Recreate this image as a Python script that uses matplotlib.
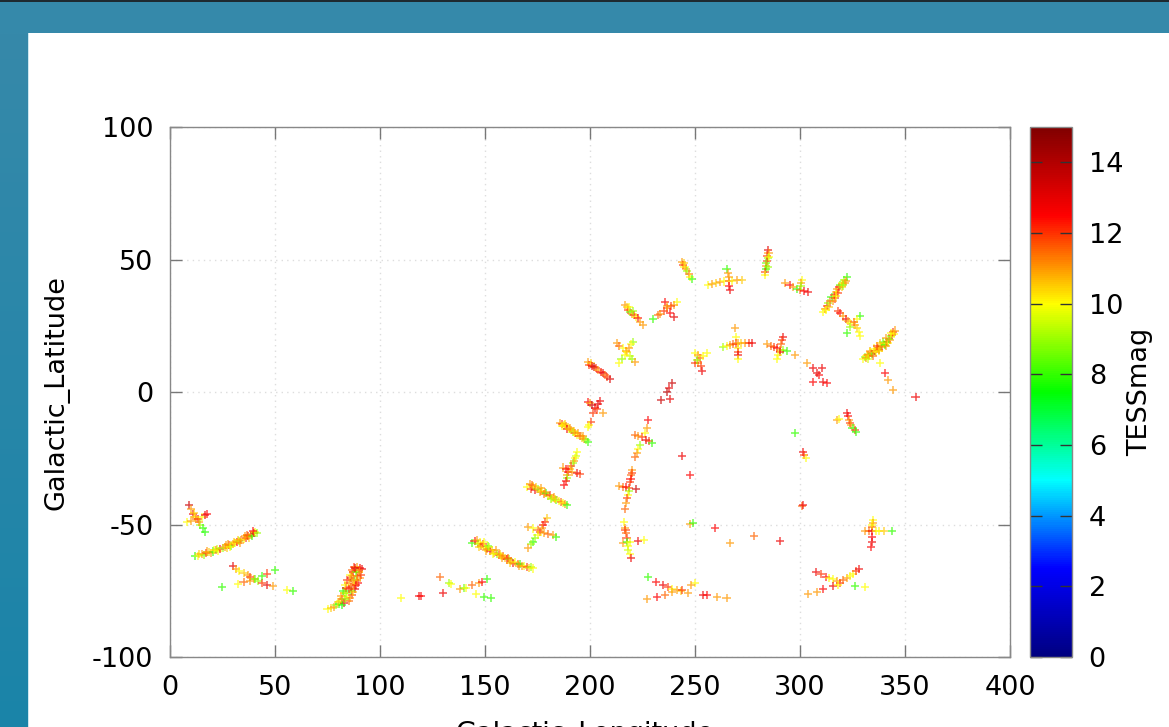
import numpy as np
import matplotlib
matplotlib.use("Agg")
import matplotlib.pyplot as plt
from matplotlib.colors import LinearSegmentedColormap, Normalize
from matplotlib.patches import Rectangle
import matplotlib.cm as cm

# ---------------- data: (Galactic longitude, Galactic latitude, TESSmag) ----------------
south_west = [
    (9, -42.6, 13.5), (10, -44, 11), (11, -46, 12.8), (12, -47, 10), (13.5, -48, 12.5), (14.5, -50, 9),
    (15.5, -51.5, 8), (16.5, -53, 7.8), (8, -49, 10), (10, -48.5, 11), (12.5, -47.8, 11.5), (15, -47, 10),
    (16.5, -46.3, 13), (17.5, -46, 12.5), (11.5, -45.5, 10.5), (14, -49, 11),
    (12, -62, 7.8), (13.5, -61.8, 10), (15, -61.3, 11), (16, -61.6, 9), (17, -60.8, 12), (18.5, -60.5, 10.5),
    (19.5, -60.9, 11), (20.5, -60.2, 8), (22, -59.6, 11.5), (23, -59.9, 10), (24, -59.1, 12.5), (25, -58.8, 9),
    (26, -58.5, 11), (27, -58.9, 10.5), (28, -57.8, 12), (29, -58.1, 8.5), (30, -57.3, 11), (31, -57, 10),
    (32, -56.5, 12.5), (33, -56.2, 9), (34, -55.8, 11.5), (35, -55.3, 10), (36, -55, 12), (37, -54.4, 13),
    (37.5, -54.9, 10.5), (38.5, -53.8, 11), (39, -54.3, 8), (40, -53.2, 12.8), (40.5, -52.8, 10), (41.5, -53.3, 9),
    (35.5, -54.5, 11), (30.5, -56.6, 10.5), (26.5, -57.8, 11), (21, -59.5, 10), (14, -61, 10.5), (17.5, -60.2, 11),
    (22.5, -59.2, 9.5), (27.5, -57.5, 11), (32.5, -55.8, 10.5), (36.5, -54, 11.5), (39.5, -52.6, 12.5),
    (33.5, -56.8, 11), (28.5, -58.6, 10),
    (30, -65.7, 13), (31.5, -66.8, 11), (33, -67.5, 10), (35, -68.3, 10.5), (37, -69.2, 11), (38, -69.8, 12),
    (40, -70.5, 11), (42, -71.3, 9), (44, -72, 12), (46, -72.8, 13), (49, -73.2, 11),
    (24.6, -73.6, 8), (32.5, -72.4, 10), (35, -71.6, 11.5), (38, -71.3, 11), (40.5, -70.5, 8.5), (43.7, -69.5, 8),
    (46, -68.5, 12), (50, -67, 8), (55.6, -74.7, 10), (58.5, -75, 8),
    (75, -82, 10), (76.5, -81.5, 10.5), (78, -81, 11), (79, -80.5, 9), (80.5, -80, 8), (81, -79, 10), (82, -78, 12),
    (81.5, -77, 11), (83, -76, 10.5), (82.5, -75, 8), (84, -74, 12.5), (83.5, -73, 10), (85, -72, 11), (84.5, -71, 12),
    (86, -70, 13), (85.5, -69, 10), (87, -68, 12.5), (86.5, -67, 11.5), (87.5, -66.2, 12), (89, -66, 11),
    (90.5, -66.3, 12.5), (91.5, -66.8, 13), (90, -68, 10), (89, -69.5, 12), (90.5, -70, 11), (88, -71, 9),
    (89.5, -72, 12.5), (87.5, -73, 10), (88, -74.5, 13), (86, -75, 8), (86.5, -76.5, 12), (84.5, -77.5, 10),
    (85, -79, 11.5), (83, -79.5, 12.8), (82, -80.5, 7.8), (87, -71.5, 11), (88.5, -68, 8.5), (84, -76, 9),
    (86, -73.5, 12), (90, -67, 11.5), (91, -69, 12), (89, -70.8, 11), (88.5, -73, 12.5), (87, -75.5, 10.5),
    (85.5, -77.8, 11), (83.5, -78.2, 9), (80, -79.2, 10.5), (88, -66.5, 13), (86.5, -69.3, 11), (85, -74.5, 12),
    (110, -77.7, 10), (118.5, -77, 12.8), (119.5, -77, 12.5), (130, -76, 12.8),
]

south_mid = [
    (128.6, -69.7, 11.5), (133, -72, 9), (134, -72.5, 10), (138, -74.5, 11), (140, -73.8, 8.5), (141, -74, 10),
    (143.6, -72.8, 11.5), (147, -72, 11), (148.6, -71.6, 12.5), (151, -70.6, 8), (145.7, -76.2, 10),
    (149.5, -77.3, 8), (153, -77.8, 8),
    (143.7, -57, 8), (145, -56.3, 12.5), (146, -55.8, 11), (146.5, -57.5, 9), (147.5, -56.8, 10), (148, -58, 11.5),
    (149, -57.2, 12), (150, -58.7, 10), (151, -59.3, 11), (151.5, -58.2, 8.5), (152.5, -60, 12.8),
    (153.5, -59.5, 10.5), (154.5, -60.8, 11), (155.5, -61.2, 9), (156.5, -61.5, 12), (157.5, -62, 10),
    (158.5, -61.8, 11.5), (159.5, -62.6, 10.5), (160.5, -63.2, 12.5), (161.5, -63, 9), (162.5, -63.8, 11),
    (163.5, -64.4, 12.8), (164.5, -64.2, 10), (165.5, -65, 11.5), (166.5, -64.8, 8), (167.5, -65.5, 11),
    (168.5, -65.7, 10), (170, -66, 12), (171, -66.4, 10.5), (172, -66.2, 9), (173, -66.6, 10), (149.5, -56.5, 10),
    (155, -59.8, 11), (147, -58.6, 10.5), (150.5, -59.8, 11), (154, -61.3, 10), (158, -62.8, 11), (162, -64.5, 10.5),
    (166, -65.6, 11), (152, -58.5, 9.5), (157, -61.2, 10.5), (161, -62.6, 11.5),
    (170.5, -50.8, 11), (173, -51.5, 10), (175, -52, 11.5), (176, -52.7, 12), (178, -53.3, 11), (180, -53.5, 11.5),
    (182.4, -54, 11), (184, -54.8, 8), (179.5, -47.6, 10.5), (178.5, -49, 12), (177.6, -50.2, 12.5), (177, -51.5, 11),
    (175, -54, 10), (174, -55, 9), (173, -56.5, 8), (172, -57.5, 9), (170.5, -58.8, 11),
    (170, -35.8, 10), (171.4, -34.7, 11), (172, -36.5, 12), (173, -35.5, 10.5), (174, -37, 12.8), (175, -36.5, 9),
    (176, -37.8, 11), (177, -37.3, 10), (178, -38.5, 11.5), (179, -38, 8), (180, -39.3, 10.5), (181, -38.8, 12),
    (182, -40, 10), (183, -39.8, 11), (184, -40.8, 8.5), (185, -41, 10), (186, -41.5, 11.5), (187, -41.8, 10),
    (188, -42.3, 11), (189, -42.6, 8), (176.5, -36.4, 11), (181.5, -40.3, 9), (172.5, -35.2, 11.5),
    (174.5, -36, 10.5), (178.5, -37.6, 11), (183.5, -40.3, 10.5),
    (194, -22.6, 10), (193.5, -24, 9.5), (193, -25, 10), (192.5, -26, 11), (192, -26.9, 9), (191, -28, 12),
    (190.5, -29, 10.5), (189.5, -30, 12.5), (189, -31.5, 11), (189, -32.5, 9), (188.5, -33.5, 12.5),
    (187.6, -35, 12.5), (187, -28.5, 11), (188.5, -29, 12.5), (191.5, -30, 11), (193.6, -30.5, 12.8), (195, -31, 12),
    (185.7, -11.8, 11), (186.5, -12, 12), (187.5, -12.6, 10), (188.5, -13, 11.5), (189, -13.8, 12.8), (190, -14, 10),
    (191, -14.5, 11), (192, -15.2, 9), (193, -15.5, 11.5), (194, -16.2, 10), (195, -16.5, 12), (196, -17.2, 10.5),
    (197, -17.6, 11), (198, -18.2, 9), (199, -18.8, 8), (188, -12.2, 10.5), (194.5, -15.6, 11), (186.8, -13, 10),
    (190.5, -13.6, 11), (192.5, -14.7, 10.5), (196.5, -16.6, 11),
    (199, -3.8, 12.5), (200, -4.3, 11), (201, -5, 13.5), (202.4, -6, 12.8), (203.5, -6.6, 12), (204.8, -3.3, 12.8),
    (203.6, -4.5, 13), (206, -8, 11), (201.5, -8, 12), (200.5, -11.3, 12), (199.5, -12.3, 10), (199, -13.2, 10),
]

north_arc = [
    (199, 11.3, 11), (199.5, 10.3, 12), (200.5, 10.8, 10.5), (201, 9.8, 12.8), (202, 9.4, 13.5), (203, 9, 12),
    (204, 8.2, 11), (205, 7.5, 12.5), (206, 7, 13), (207, 6.3, 11.5), (208, 5.8, 12), (209.5, 4.9, 13.2),
    (212.8, 18.5, 11), (214, 17.5, 11.5), (215.5, 16.5, 10), (217, 15.5, 11), (217.6, 15, 10.5), (219, 13.5, 9.5),
    (220, 12.5, 9), (221.4, 11.3, 11), (220.5, 19, 9), (219.5, 18, 10), (218.5, 16.5, 11), (216.5, 14, 10),
    (215, 12.5, 9), (214, 10.9, 10),
    (216.7, 32.8, 11), (217.5, 32, 10.5), (218, 31, 12), (219, 30.3, 8.5), (220, 29.5, 11), (221, 29, 12),
    (222, 28.2, 10), (222.8, 27.9, 12.5), (224, 26.5, 11), (225.2, 25.3, 11), (218.5, 32, 10), (220.5, 30.5, 9),
    (241.4, 34, 10), (240, 33, 11), (238.5, 32.5, 12), (236.7, 31.7, 11.5), (235, 30.5, 12), (233.5, 29.5, 11),
    (232.4, 29, 11.5), (230, 27.5, 8), (235.7, 34, 12.5), (236.5, 32.5, 11), (238, 30, 12.5), (240, 28.3, 13),
    (243.8, 49, 11), (244.3, 48, 12), (245, 47.2, 10), (245.5, 46.3, 11), (246.2, 45.5, 9), (247, 44.5, 11.5),
    (247.5, 43.5, 10), (248.6, 42.6, 8), (244.8, 48.5, 10.5),
    (256, 40.4, 10), (258, 40.8, 11), (260, 41.2, 10.5), (262, 41.5, 11), (264, 41.7, 10), (266, 41.8, 11.5),
    (267.6, 41.9, 10), (270, 42.1, 11), (272.4, 42.3, 10.5), (265, 46.4, 8), (265.5, 45, 11), (266, 43.5, 11),
    (266.3, 40, 12.5), (266.7, 38.5, 12.8),
    (284.8, 53.6, 13), (285, 52.5, 11), (284.5, 51.5, 12), (284.6, 50.5, 9), (284.2, 49.5, 12), (284, 48.5, 8.5),
    (283.8, 47.5, 11), (283.6, 46.5, 8), (283.4, 45.3, 12), (283.3, 44.2, 10), (285.3, 51, 10), (284.8, 47, 9),
    (292.9, 41.1, 11), (295, 40.5, 12.5), (296.5, 39.7, 11), (298.6, 38.9, 8), (300, 38.4, 11.5), (302, 38, 12.5),
    (303.8, 37.7, 12.8), (301, 42.3, 10), (300.5, 41, 11), (300.3, 40, 9),
    (311, 30.2, 10), (312, 31.3, 11), (313, 32.5, 12), (313.5, 33.7, 9), (314.5, 34.5, 11.5), (315, 35.8, 8),
    (316, 36.5, 12), (317, 37.8, 10.5), (317.5, 38.8, 11), (318.5, 39.5, 12.5), (319, 40.5, 8.5), (320, 41.3, 10),
    (321, 42.3, 9), (322.4, 43.4, 8), (321.5, 41, 11), (316.5, 35.3, 12), (313.8, 32.2, 10.5), (312.5, 30.8, 10),
    (315.5, 34.2, 11), (318, 37.5, 12), (319.8, 39.6, 10.5), (322, 42, 11), (320.5, 40.2, 9), (317.2, 36.4, 10),
    (318.2, 30.4, 12), (319, 29.8, 12.5), (320.5, 28.5, 11), (322, 27.5, 12.8), (322.8, 26.8, 11), (324, 26, 10),
    (326, 25.3, 11), (327, 24, 10.5), (328, 22.5, 10), (328.6, 21.1, 10), (328.6, 28.7, 8), (327, 27.5, 10),
    (325.5, 26.3, 11.5), (324, 24.5, 9), (322.4, 22.3, 8),
    (330, 12.5, 10), (331, 13.2, 9), (331.5, 12.8, 11), (332.5, 14, 12), (333, 13.5, 10.5), (334, 14.8, 11),
    (334.5, 14.3, 8.5), (335.5, 15.6, 12.5), (336, 15, 10), (337, 16.5, 11), (337.5, 16, 12.8), (338.5, 17.3, 9),
    (339, 16.8, 11.5), (340, 18.2, 10), (340.5, 17.8, 8), (341.5, 19, 12), (342, 18.6, 10), (342.5, 20, 8),
    (343, 19.7, 11), (343.5, 21, 9), (344, 21.5, 11.5), (344.3, 22.6, 12), (344.8, 22, 10), (339.5, 18.8, 8.5),
    (336.5, 16.2, 11), (331.8, 14, 10.5), (333.5, 15.3, 11), (335, 16.4, 10), (336.8, 17.4, 12), (338.2, 18.4, 10.5),
    (341, 20.3, 11), (343.2, 22.4, 10), (345, 23.2, 11), (332.2, 12.3, 9.5), (334.8, 13.7, 11.5), (337.8, 15.5, 10),
    (340.8, 17.2, 11),
    (338, 11, 10), (340.5, 7.2, 12.5), (342, 4.5, 11), (344.3, 0.8, 11), (355, -1.9, 12.8),
]

inner_loop = [
    (250, 14.7, 10), (251.5, 13.8, 11), (252.5, 13, 11.5), (254, 13.5, 10), (255.7, 14.7, 10), (251.4, 11, 11),
    (250, 11, 12), (252.8, 10, 12), (253.3, 8, 12.8), (251, 12, 9),
    (269, 24, 11), (269.5, 20.8, 10),
    (263.3, 17, 9), (265, 17.5, 10), (266.5, 17.8, 11), (268, 18, 11.5), (269.5, 18.3, 12), (270.5, 18.5, 11),
    (272, 18.4, 10.5), (274, 18.6, 11), (275.5, 18.6, 12), (277, 18.5, 12.8), (270.5, 16.5, 10), (270.5, 15.2, 12),
    (270.5, 14, 12.8), (270.5, 12.5, 10),
    (284.3, 18.1, 11), (286, 17.5, 11.5), (287.5, 17, 12), (289, 16.6, 12.5), (290.5, 16, 11), (292, 15.7, 9),
    (293.8, 15.5, 8), (292, 20.8, 12.8), (291.5, 19.5, 12), (291, 18, 11.5), (290.5, 15.1, 12.8), (289.5, 13.8, 10),
    (289, 12.5, 10), (297.6, 14, 11),
    (303.3, 11, 11), (306, 9, 12.8), (310.5, 9, 12.8), (309, 6.4, 12.5), (311, 3.8, 12.8), (306, 3.8, 12.5),
    (312.8, 3.4, 12.5), (308, 7, 13),
    (239, 3.4, 13.5), (237.5, 1.5, 13), (236.6, 0, 13.8), (234, -3, 13.5), (238, -2.6, 13),
    (227.6, -10.6, 12.5), (227, -13.6, 11), (226, -15.5, 10), (224.7, -17, 12), (223, -16.5, 11),
    (221.4, -16.2, 11.5), (226.5, -18, 13), (228, -18.5, 12), (229.5, -19.2, 8), (224, -20, 9), (223, -21.5, 10),
    (222.4, -23, 11), (221.4, -24.5, 11.5),
    (243.8, -24.3, 12.8), (247.6, -31.3, 12.5),
    (220, -29.4, 11), (219.8, -30.5, 12), (219.5, -31.5, 11.5), (219.3, -33, 12.5), (219, -34, 12),
    (213.8, -35.5, 11), (215.5, -35.8, 11.5), (217, -36, 12.5), (218.5, -36.3, 12), (222, -36.6, 13.5),
    (218.5, -37.5, 9), (218.3, -38.9, 10), (217.8, -40, 12), (217.2, -42, 11), (216.7, -44, 11.5), (216.2, -49, 10),
    (216.7, -51.3, 11), (216.9, -52, 12), (217.2, -53.2, 11.5), (217.4, -55, 12), (215.7, -57, 11),
    (217.5, -56.5, 8), (219, -56.5, 10), (223, -56.2, 12.8), (225.7, -55.8, 10), (218, -58, 10), (218.3, -59.6, 9.5),
    (219, -61, 10), (219.5, -62.6, 12.8),
    (247.6, -49.8, 11), (249, -49.3, 8), (259.5, -51.3, 12.5), (266.7, -57, 11), (278, -54.3, 11.5),
    (290.5, -56.2, 12.8), (301, -43, 11.5), (301.5, -42.8, 12.8), (297.6, -15.5, 8), (301.4, -22.6, 12.8),
    (302, -23.8, 12), (302.8, -25, 10),
    (322.4, -8, 12.8), (322.8, -9.2, 12.5), (323.2, -10.5, 11), (323.8, -11.7, 12), (324.5, -12.5, 11),
    (325, -13.5, 8), (326, -14.2, 12), (326.7, -15, 8), (317.6, -10.6, 11), (318.5, -10.3, 10),
]

south_east = [
    (227.6, -69.8, 8), (231.4, -71.7, 12.5), (234.8, -72.8, 12.8), (237, -73.6, 12), (239, -74.2, 10),
    (241.4, -74.7, 11), (243.5, -75.2, 10.5), (246.7, -75.8, 11), (250, -72, 10), (248, -73, 11), (227, -78, 11),
    (232, -77.3, 12.5), (235.7, -76.6, 11.5), (239, -75.5, 11), (243.8, -74.7, 12), (253.8, -76.6, 12.8),
    (255.7, -76.6, 12.5), (260.5, -77.3, 11), (265, -77.7, 11),
    (307.6, -68, 12.8), (310, -68.8, 12), (312.4, -69.8, 12.5), (314, -70.2, 10), (315.7, -70.6, 10),
    (317.5, -71.5, 11), (319, -72, 12), (320.5, -71, 11.5), (322.4, -70.2, 11), (324, -69.5, 10), (325.2, -68.7, 10),
    (326.5, -67.5, 12), (328, -66.8, 12.8), (315.7, -73.2, 12.8), (318, -72.8, 10), (326, -73.2, 8),
    (331, -73.6, 10), (303.8, -76.2, 11), (308, -75.5, 11), (311, -74.3, 12.5),
    (334.8, -48.3, 10), (334.8, -49.5, 11), (334.5, -51, 11.5), (331, -52.5, 11), (333, -52.5, 11.5),
    (334.5, -52.5, 12.8), (336, -52.5, 10), (337.6, -52.5, 10), (340, -52.5, 10.5), (343.8, -52.5, 8),
    (334.5, -54.7, 12.5), (334.2, -56.6, 12.8), (333.8, -58.5, 12.5), (334.3, -50, 10),
]

x_ticks = [0, 50, 100, 150, 200, 250, 300, 350, 400]
y_ticks = [-100, -50, 0, 50, 100]
cbar_ticks = [0, 2, 4, 6, 8, 10, 12, 14]

# ---------------- figure ----------------
plt.rcParams["font.family"] = ["DejaVu Sans"]
plt.rcParams["axes.unicode_minus"] = False
W, H, DPI = 1169, 727, 100
FS = 19.5
fig = plt.figure(figsize=(W / DPI, H / DPI), dpi=DPI, facecolor="white")

# page frame (blue bands)
bg = fig.add_axes([0, 0, 1, 1], zorder=-10)
bg.set_xlim(0, W)
bg.set_ylim(H, 0)
bg.axis("off")
grad = np.linspace(0, 1, 256).reshape(-1, 1)
band_cmap = LinearSegmentedColormap.from_list("band", ["#3689aa", "#1a84a8"])
bg.imshow(grad, cmap=band_cmap, extent=[0, 28, H, 33], aspect="auto", zorder=1)
bg.add_patch(Rectangle((0, 2), W, 31, color="#3589aa", zorder=2, lw=0))
bg.add_patch(Rectangle((0, 0), W, 2, color="#1e2a30", zorder=3, lw=0))
bg.add_patch(Rectangle((28, 33), 1.2, H - 33, color="#cde7f0", zorder=3, lw=0))

pts = south_west + south_mid + north_arc + inner_loop + south_east
lon = np.array([p[0] for p in pts])
lat = np.array([p[1] for p in pts])
mag = np.array([p[2] for p in pts])

cmap = LinearSegmentedColormap.from_list(
    "tess",
    [(0.0, "#000080"), (2.5 / 15, "#0000ff"), (5.0 / 15, "#00ffff"), (7.5 / 15, "#00ff00"),
     (10.0 / 15, "#ffff00"), (12.5 / 15, "#ff0000"), (1.0, "#800000")],
)
norm = Normalize(vmin=0, vmax=15)

ax = fig.add_axes([170 / W, 1 - 657 / H, 840 / W, 530 / H])
ax.scatter(lon, lat, c=mag, cmap=cmap, norm=norm, marker="+", s=34, linewidths=1.1, alpha=0.7, zorder=3)
ax.set_xlim(0, 400)
ax.set_ylim(-100, 100)
ax.set_xticks(x_ticks)
ax.set_yticks(y_ticks)
ax.grid(True, color="#dddddd", linestyle=(0, (1, 3)), linewidth=1)
ax.tick_params(direction="in", length=8.5, width=1, color="#777777", top=True, right=True,
               labelsize=FS, pad=13)
ax.tick_params(axis="y", pad=12)
for s in ax.spines.values():
    s.set_color("#888888")
    s.set_linewidth(1)
ax.set_ylabel("Galactic_Latitude", fontsize=FS, labelpad=16)
fig.text(585 / W, 1 - 741 / H, "Galactic_Longitude", fontsize=FS, ha="center", va="baseline")

cax = fig.add_axes([1030 / W, 1 - 657 / H, 42 / W, 530 / H])
sm = cm.ScalarMappable(norm=norm, cmap=cmap)
cb = fig.colorbar(sm, cax=cax, ticks=cbar_ticks)
cb.outline.set_edgecolor("#888888")
cb.outline.set_linewidth(1)
cax.tick_params(direction="in", length=8.5, width=1, color="#333333", left=True, right=True,
                labelsize=FS, pad=12)
cb.set_label("TESSmag", fontsize=FS, labelpad=3)

fig.savefig("out.png", dpi=DPI, facecolor="white")
